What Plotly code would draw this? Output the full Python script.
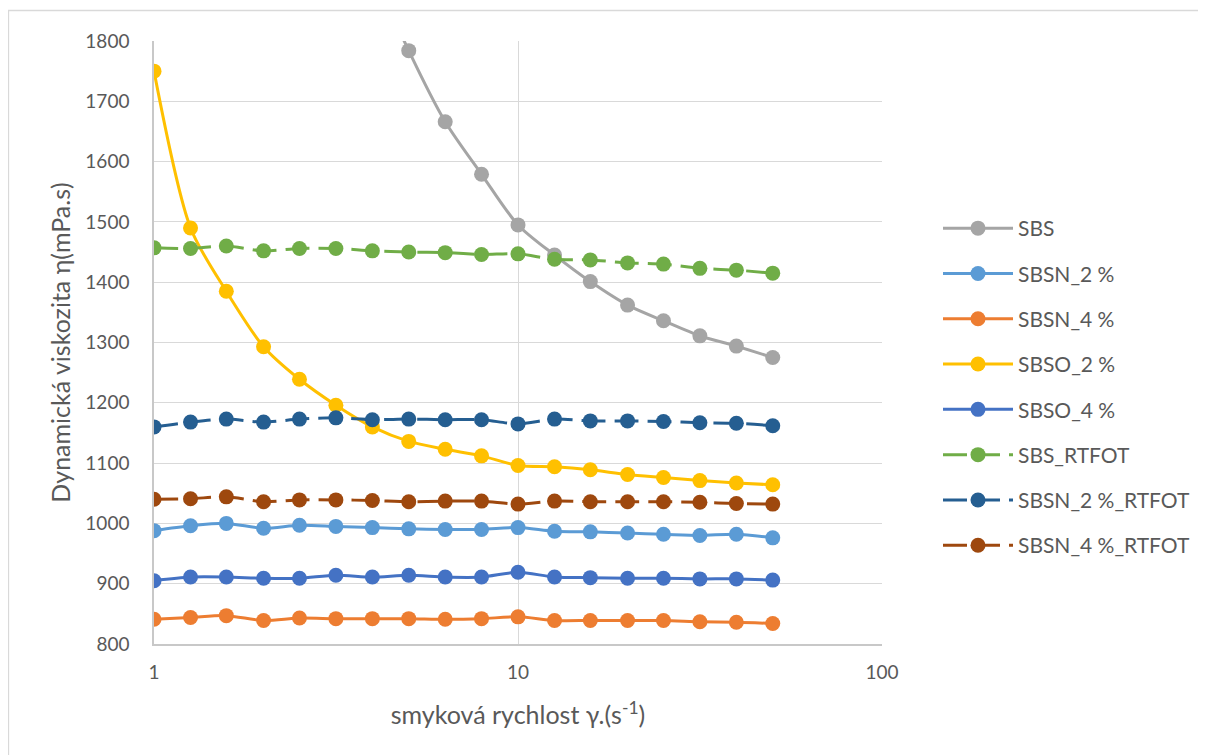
import plotly.graph_objects as go

# shear rate (s^-1)
x = [1.0, 1.26, 1.58, 2.0, 2.51, 3.16, 3.98, 5.01, 6.31, 7.94,
     10.0, 12.6, 15.8, 20.0, 25.1, 31.6, 39.8, 50.1]

series_names = ["SBS", "SBSN_2 %", "SBSN_4 %", "SBSO_2 %", "SBSO_4 %",
                "SBS_RTFOT", "SBSN_2 %_RTFOT", "SBSN_4 %_RTFOT"]

sbs = [None, None, None, None, None, 2080, 1920, 1784, 1666, 1579,
       1495, 1445, 1401, 1362, 1336, 1311, 1294, 1275]
sbsn_2 = [988, 996, 1000, 992, 997, 995, 993, 991, 990, 990,
          993, 987, 986, 984, 982, 980, 982, 976]
sbsn_4 = [841, 844, 847, 839, 843, 842, 842, 842, 841, 842,
          845, 839, 839, 839, 839, 837, 836, 834]
sbso_2 = [1750, 1490, 1385, 1293, 1239, 1196, 1160, 1136, 1123, 1112,
          1096, 1094, 1089, 1081, 1076, 1071, 1067, 1064]
sbso_4 = [905, 911, 911, 909, 909, 914, 911, 914, 911, 911,
          919, 911, 910, 909, 909, 908, 908, 906]
sbs_rtfot = [1457, 1456, 1460, 1452, 1456, 1456, 1452, 1450, 1449, 1446,
             1447, 1438, 1437, 1432, 1430, 1423, 1420, 1415]
sbsn_2_rtfot = [1160, 1168, 1173, 1168, 1173, 1175, 1172, 1173, 1172, 1172,
                1165, 1173, 1170, 1170, 1169, 1167, 1166, 1162]
sbsn_4_rtfot = [1040, 1041, 1044, 1036, 1039, 1039, 1038, 1036, 1037, 1037,
                1032, 1037, 1036, 1036, 1036, 1035, 1033, 1032]

series_values = [sbs, sbsn_2, sbsn_4, sbso_2, sbso_4,
                 sbs_rtfot, sbsn_2_rtfot, sbsn_4_rtfot]
colors = ["#A5A5A5", "#5B9BD5", "#ED7D31", "#FFC000", "#4472C4",
          "#70AD47", "#255E91", "#9E480E"]
dashes = ["solid"] * 5 + ["24px,9px"] * 3

x_ticks = [1, 10, 100]
x_ticktext = ["1", "10", "100"]

FONT = "Lato"
TXT = "#595959"

fig = go.Figure()
for i, (name, vals) in enumerate(zip(series_names, series_values)):
    fig.add_trace(go.Scatter(
        x=x, y=vals, name=name, mode="lines+markers",
        legendgroup=f"g{i}",
        line=dict(color=colors[i], width=3, dash=dashes[i],
                  shape="spline", smoothing=0.8),
        marker=dict(color=colors[i], size=15),
    ))

# page body has an 8px margin: work in figure coordinates (screen - 8)
OFF = 8
W, H = 1206 - OFF, 755 - OFF
L, R, T, B = 154 - OFF, 882 - OFF, 41 - OFF, 644 - OFF


def px(xs):
    return (xs - OFF - L) / (R - L)


def py(ys):
    return (B - (ys - OFF)) / (B - T)


fig.update_layout(
    width=W, height=H,
    margin=dict(l=L, r=W - R, t=T, b=H - B, autoexpand=False),
    paper_bgcolor="white", plot_bgcolor="white",
    font=dict(family=FONT, color=TXT, size=19),
    showlegend=True,
    legend=dict(x=px(938), y=py(387), xanchor="left", yanchor="middle",
                font=dict(family=FONT, size=21, color=TXT),
                itemwidth=70, tracegroupgap=15, bgcolor="rgba(0,0,0,0)"),
    xaxis=dict(type="log", range=[0, 2], tickvals=x_ticks, ticktext=x_ticktext,
               showgrid=True, gridcolor="#D9D9D9", gridwidth=1.3,
               showline=True, linecolor="#C8C8C8", linewidth=1.5,
               zeroline=False, ticks="", ticklabelstandoff=10,
               tickfont=dict(family=FONT, size=19, color=TXT),
               title=dict(text="smyková rychlost γ.(s<sup>-1</sup>)",
                          font=dict(family=FONT, size=25, color=TXT),
                          standoff=25)),
    yaxis=dict(range=[800, 1800], dtick=100, tick0=800,
               showgrid=True, gridcolor="#D9D9D9", gridwidth=1.3,
               showline=True, linecolor="#C8C8C8", linewidth=1.5,
               zeroline=False, ticks="", ticklabelstandoff=19,
               tickfont=dict(family=FONT, size=19, color=TXT),
               title=dict(text="Dynamická viskozita η(mPa.s)",
                          font=dict(family=FONT, size=25, color=TXT),
                          standoff=8)),
    shapes=[dict(type="rect", xref="paper", yref="paper",
                 x0=px(8.5), x1=px(1230), y0=py(780), y1=py(10.5),
                 line=dict(color="#D9D9D9", width=1.3), layer="below")],
)

fig.write_html("out.html")
